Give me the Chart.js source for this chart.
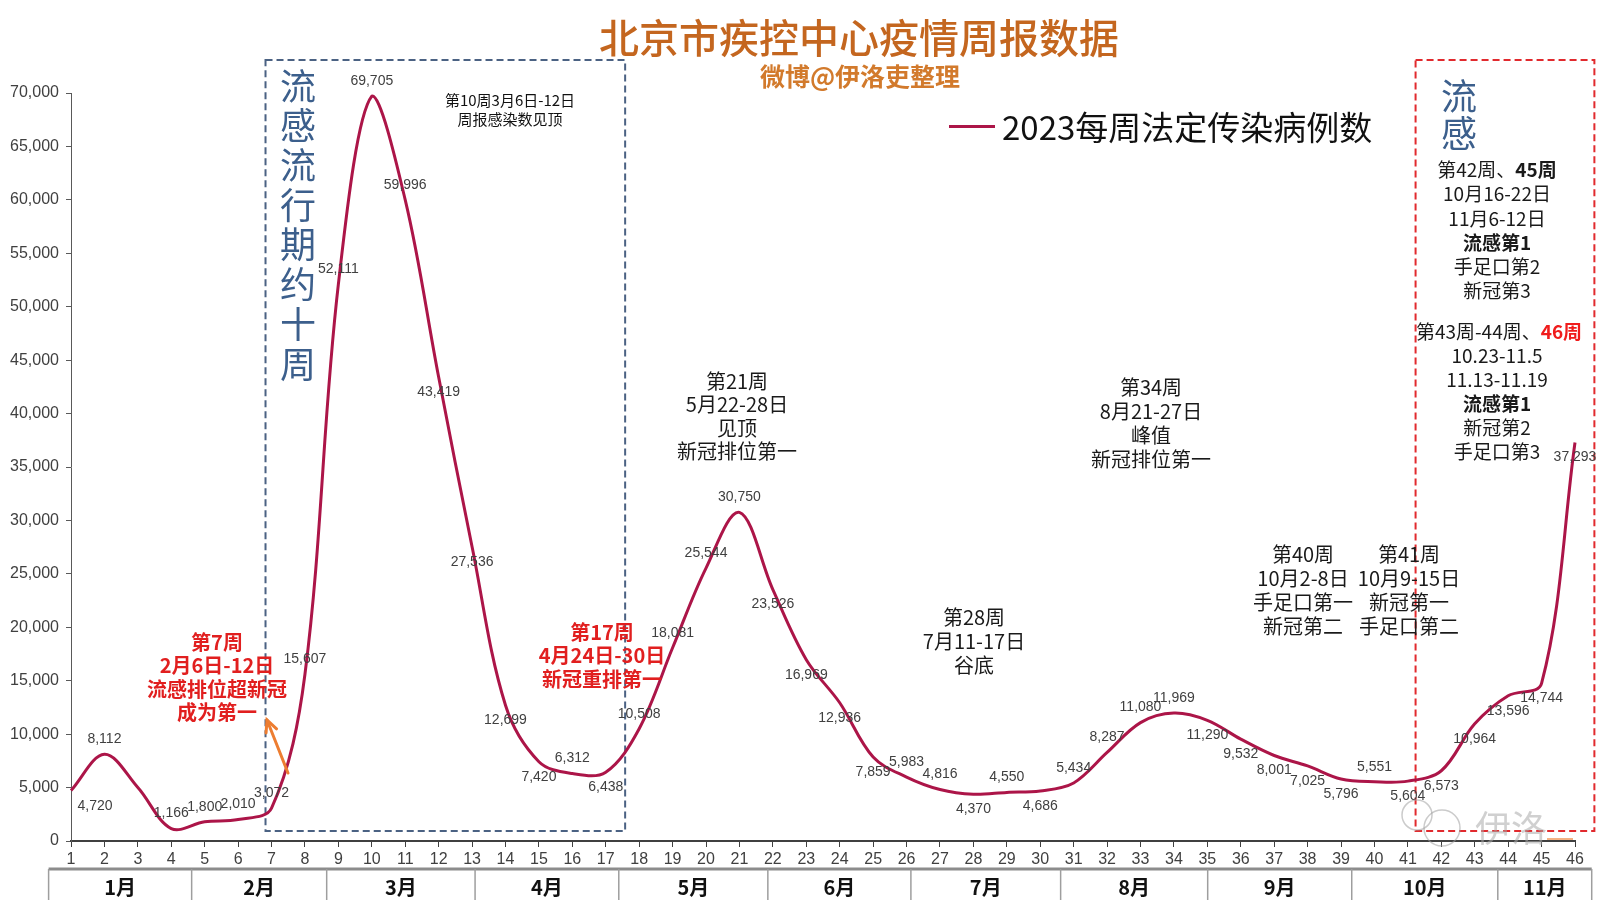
<!DOCTYPE html>
<html><head><meta charset="utf-8">
<script src="https://cdn.jsdelivr.net/npm/chart.js@4.4.1/dist/chart.umd.min.js"></script>
<style>html,body{margin:0;padding:0;background:#fff;}#wrap{width:1600px;height:900px;}</style>
</head><body><div id="wrap"><canvas id="c" width="1600" height="900"></canvas></div>
<script>
// ---------- data ----------
const weeks = ['1','2','3','4','5','6','7','8','9','10','11','12','13','14','15','16','17','18','19','20','21','22','23','24','25','26','27','28','29','30','31','32','33','34','35','36','37','38','39','40','41','42','43','44','45','46'];
const cases = [4720, 8112, 5000, 1166, 1800, 2010, 3072, 15607, 52111, 69705,
               59996, 43419, 27536, 12699, 7420, 6312, 6438, 10508, 18081, 25544,
               30750, 23526, 16969, 12936, 7859, 5983, 4816, 4370, 4550, 4686,
               5434, 8287, 11080, 11969, 11290, 9532, 8001, 7025, 5796, 5551,
               5604, 6573, 10964, 13596, 14744, 37293];
// label placement per point: A = above, B = below, R = right/below, - = no label
const labelPlacement = ['R','A','-','A','A','A','A','A','A','A','A','B','B','B','B','A','B','A','A','A','A','B','B','B','B','A','A','B','A','B','A','A','A','A','B','B','B','B','B','A','B','B','B','B','B','B'];
const seriesName = '2023每周法定传染病例数';
const months = ['1月','2月','3月','4月','5月','6月','7月','8月','9月','10月','11月'];
// month boundaries expressed on the week axis (0-based week index)
const monthEdges = [-0.67, 3.61, 7.65, 12.09, 16.39, 20.85, 25.13, 29.61, 34.01, 38.32, 42.69, 45.5];
const yMin = 0, yMax = 70000, yStep = 5000;

// ---------- styles ----------
const LINE = '#AC1548';
const CJK = '"Noto Sans CJK SC", "Noto Sans", sans-serif';
const NUM = '"Liberation Sans", Arial, sans-serif';
const fmt = v => Number(v).toLocaleString('en-US');

function textBlock(ctx, lines, cx, y0, dy, font, color){
  ctx.font = font; ctx.fillStyle = color; ctx.textAlign = 'center'; ctx.textBaseline = 'middle';
  lines.forEach((t,i)=>ctx.fillText(t, cx, y0 + i*dy));
}
function richLine(ctx, segs, cx, y){
  let total = 0;
  segs.forEach(s=>{ctx.font = s.font; s.w = ctx.measureText(s.t).width; total += s.w;});
  let x = cx - total/2;
  ctx.textAlign = 'left'; ctx.textBaseline = 'middle';
  segs.forEach(s=>{ctx.font = s.font; ctx.fillStyle = s.color; ctx.fillText(s.t, x, y); x += s.w;});
}

const boxesPlugin = {
  id:'boxes',
  beforeDatasetsDraw(chart){
    const {ctx, scales:{x, y}} = chart;
    ctx.save();
    ctx.lineWidth = 2;
    ctx.setLineDash([7,4]);
    ctx.strokeStyle = '#4B6283';
    let x1 = x.getPixelForValue(5.82), x2 = x.getPixelForValue(16.58);
    let y1 = y.getPixelForValue(73084), y2 = y.getPixelForValue(935);
    ctx.strokeRect(x1, y1, x2-x1, y2-y1);
    ctx.strokeStyle = '#E12A2E';
    x1 = x.getPixelForValue(40.23); x2 = x.getPixelForValue(45.58);
    ctx.strokeRect(x1, y1, x2-x1, y2-y1);
    ctx.restore();
  }
};

const labelsPlugin = {
  id:'pointLabels',
  afterDatasetsDraw(chart){
    const ctx = chart.ctx, meta = chart.getDatasetMeta(0);
    ctx.save();
    ctx.font = '14px ' + NUM; ctx.fillStyle = '#404040';
    ctx.textAlign = 'center'; ctx.textBaseline = 'middle';
    meta.data.forEach((pt,i)=>{
      const p = labelPlacement[i];
      if(p === '-') return;
      let dx = 0, dy = (p === 'A') ? -15 : 15;
      if(p === 'R'){dx = 24; dy = 16;}
      ctx.fillText(fmt(cases[i]), pt.x + dx, pt.y + dy);
    });
    ctx.restore();
  }
};

const decorPlugin = {
  id:'decor',
  afterDraw(chart){
    const {ctx, scales:{x}} = chart;
    ctx.save();
    // title
    textBlock(ctx, ['北京市疾控中心疫情周报数据'], 859, 38, 0, '500 40px ' + CJK, '#C4661F');
    textBlock(ctx, ['微博@伊洛吏整理'], 860, 76, 0, 'bold 25px ' + CJK, '#D27A2C');
    // legend
    ctx.strokeStyle = LINE; ctx.lineWidth = 3; ctx.setLineDash([]);
    ctx.beginPath(); ctx.moveTo(949,126.5); ctx.lineTo(995,126.5); ctx.stroke();
    ctx.font = '33px ' + CJK; ctx.fillStyle = '#111'; ctx.textAlign = 'left'; ctx.textBaseline = 'middle';
    ctx.fillText(chart.data.datasets[0].label, 1002, 127);
    // blue vertical text
    const vt = '流感流行期约十周';
    ctx.font = '36px ' + CJK; ctx.fillStyle = '#3C5F8C'; ctx.textAlign = 'center';
    for(let i=0;i<vt.length;i++) ctx.fillText(vt[i], 298, 86 + i*39.7);
    textBlock(ctx, ['流','感'], 1459, 96, 37, '36px ' + CJK, '#3C5F8C');
    // peak note
    textBlock(ctx, ['第10周3月6日-12日','周报感染数见顶'], 510, 100, 19.5, '15px ' + CJK, '#111');
    // notes
    const f20 = '20px ' + CJK;
    textBlock(ctx, ['第21周','5月22-28日','见顶','新冠排位第一'], 737, 381, 23.5, f20, '#1a1a1a');
    textBlock(ctx, ['第34周','8月21-27日','峰值','新冠排位第一'], 1151, 387, 24, f20, '#1a1a1a');
    textBlock(ctx, ['第28周','7月11-17日','谷底'], 974, 617, 24, f20, '#1a1a1a');
    textBlock(ctx, ['第40周','10月2-8日','手足口第一','新冠第二'], 1303, 554, 24, f20, '#1a1a1a');
    textBlock(ctx, ['第41周','10月9-15日','新冠第一','手足口第二'], 1409, 554, 24, f20, '#1a1a1a');
    // red notes
    textBlock(ctx, ['第7周','2月6日-12日','流感排位超新冠','成为第一'], 217, 642, 23.5, 'bold 20px ' + CJK, '#E11F1F');
    textBlock(ctx, ['第17周','4月24日-30日','新冠重排第一'], 602, 632, 23.5, 'bold 20px ' + CJK, '#E11F1F');
    // right box text
    const n = '19px ' + CJK, b = 'bold 19px ' + CJK, k = '#1a1a1a';
    const cx = 1497;
    richLine(ctx, [{t:'第42周、',font:n,color:k},{t:'45周',font:b,color:k}], cx, 170);
    textBlock(ctx, ['10月16-22日','11月6-12日'], cx, 194, 24.3, n, k);
    textBlock(ctx, ['流感第1'], cx, 243, 0, b, k);
    textBlock(ctx, ['手足口第2','新冠第3'], cx, 266.5, 24.5, n, k);
    richLine(ctx, [{t:'第43周-44周、',font:n,color:k},{t:'46周',font:b,color:'#F01C1C'}], cx + 2, 332);
    textBlock(ctx, ['10.23-11.5','11.13-11.19'], cx, 355.5, 24.2, n, k);
    textBlock(ctx, ['流感第1'], cx, 404, 0, b, k);
    textBlock(ctx, ['新冠第2','手足口第3'], cx, 428, 24, n, k);
    // orange arrow
    ctx.strokeStyle = '#ED7D31'; ctx.lineWidth = 3; ctx.lineCap = 'round';
    const ax1 = 288, ay1 = 773, ax2 = 267, ay2 = 720;
    ctx.beginPath(); ctx.moveTo(ax1, ay1); ctx.lineTo(ax2, ay2); ctx.stroke();
    const ang = Math.atan2(ay2-ay1, ax2-ax1);
    ctx.beginPath();
    ctx.moveTo(ax2 - 13*Math.cos(ang-0.45), ay2 - 13*Math.sin(ang-0.45));
    ctx.lineTo(ax2, ay2);
    ctx.lineTo(ax2 - 13*Math.cos(ang+0.45), ay2 - 13*Math.sin(ang+0.45));
    ctx.stroke();
    // month row
    const yl = 869;
    ctx.lineCap = 'butt';
    ctx.strokeStyle = '#8C8C8C'; ctx.lineWidth = 3;
    ctx.beginPath(); ctx.moveTo(x.getPixelForValue(monthEdges[0]), yl); ctx.lineTo(x.getPixelForValue(monthEdges[monthEdges.length-1]), yl); ctx.stroke();
    ctx.strokeStyle = '#9E9E9E'; ctx.lineWidth = 1.5;
    monthEdges.forEach(e=>{ const px = x.getPixelForValue(e); ctx.beginPath(); ctx.moveTo(px, yl); ctx.lineTo(px, 900); ctx.stroke(); });
    ctx.font = 'bold 20px ' + CJK; ctx.fillStyle = '#111'; ctx.textAlign = 'center'; ctx.textBaseline = 'middle';
    months.forEach((m,i)=>{ const px = (x.getPixelForValue(monthEdges[i]) + x.getPixelForValue(monthEdges[i+1]))/2; ctx.fillText(m, px, 887); });
    // watermark
    ctx.strokeStyle = 'rgba(160,160,160,0.55)'; ctx.lineWidth = 1.5;
    ctx.beginPath(); ctx.arc(1417, 815, 15, 0, Math.PI*2); ctx.stroke();
    ctx.beginPath(); ctx.arc(1442, 828, 18, 0, Math.PI*2); ctx.stroke();
    ctx.font = '36px ' + CJK; ctx.fillStyle = 'rgba(170,170,170,0.55)'; ctx.textAlign = 'center';
    ctx.fillText('伊洛', 1511, 828);
    ctx.strokeStyle = '#F4B183'; ctx.lineWidth = 2;
    ctx.beginPath(); ctx.moveTo(1547, 839); ctx.lineTo(1573, 839); ctx.stroke();
    ctx.restore();
  }
};

new Chart(document.getElementById('c').getContext('2d'), {
  type: 'line',
  data: {
    labels: weeks,
    datasets: [{
      label: seriesName,
      data: cases,
      borderColor: LINE,
      borderWidth: 3,
      pointRadius: 0,
      tension: 0.35,
      fill: false,
      clip: 8
    }]
  },
  options: {
    responsive: false,
    animation: false,
    devicePixelRatio: 1,
    layout: {padding: {top: 93, right: 25, left: 0, bottom: 0}},
    plugins: {legend: {display: false}, title: {display: false}, tooltip: {enabled: false}},
    scales: {
      x: {
        type: 'category',
        offset: false,
        grid: {drawOnChartArea: false, drawTicks: true, tickLength: 6, color: '#404040', lineWidth: 1},
        border: {display: true, color: '#404040', width: 2},
        ticks: {color: '#404040', font: {family: NUM, size: 16}, padding: 3, maxRotation: 0, autoSkip: false},
        afterFit(s){ s.height = 59; }
      },
      y: {
        min: yMin, max: yMax,
        grid: {drawOnChartArea: false, drawTicks: true, tickLength: 5, color: '#595959'},
        border: {display: true, color: '#595959', width: 1},
        ticks: {stepSize: yStep, color: '#404040', font: {family: NUM, size: 16}, padding: 7, callback: v => fmt(v)},
        afterFit(s){ s.width = 71; }
      }
    }
  },
  plugins: [boxesPlugin, labelsPlugin, decorPlugin]
});
</script>
</body></html>
